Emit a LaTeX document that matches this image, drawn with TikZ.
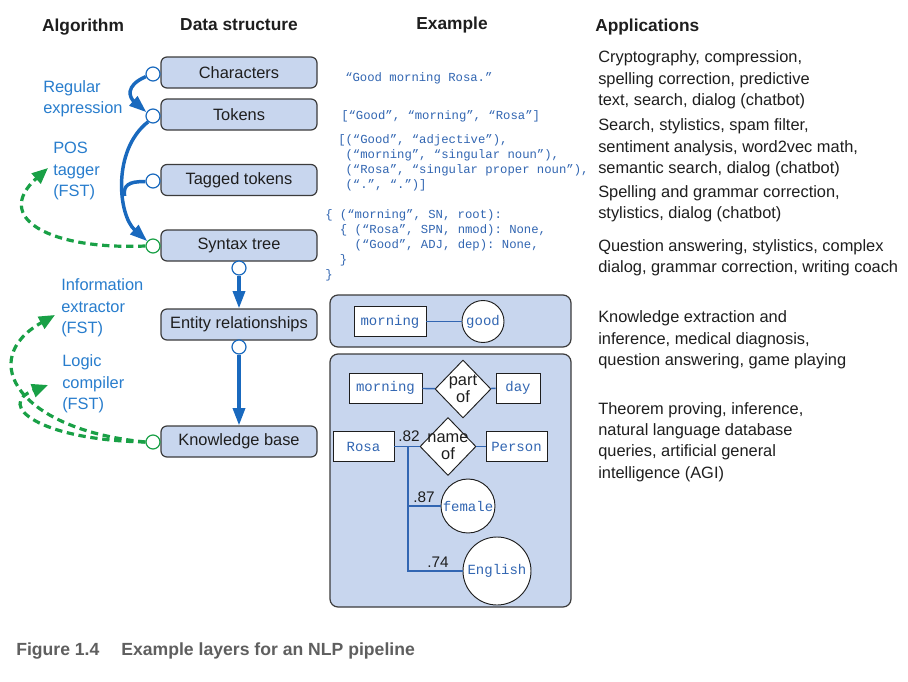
\documentclass[tikz,border=0pt]{standalone}
\usepackage{fontspec}
\setmainfont{Liberation Sans}
\setmonofont{Liberation Mono}
\usetikzlibrary{arrows.meta,shapes.geometric}
\definecolor{boxfill}{RGB}{200,214,238}
\definecolor{boxdraw}{RGB}{60,60,60}
\definecolor{arrowblue}{RGB}{25,105,190}
\definecolor{labelblue}{RGB}{40,125,205}
\definecolor{codeblue}{RGB}{50,102,178}
\definecolor{dashgreen}{RGB}{25,160,70}
\definecolor{capgray}{RGB}{95,95,95}
\definecolor{textblack}{RGB}{30,30,30}
\begin{document}
\begin{tikzpicture}[x=0.75pt,y=-0.75pt,
  every node/.style={font=\fontsize{12.3}{16.1}\selectfont, text=textblack},
  dsbox/.style={draw=boxdraw, fill=boxfill, rounded corners=4.5pt, line width=0.9pt, minimum width=117pt, minimum height=23.25pt, inner sep=0pt},
  port/.style={circle, draw=arrowblue, fill=white, line width=0.9pt, minimum size=10.5pt, inner sep=0pt},
  gport/.style={port, draw=dashgreen},
  flowline/.style={draw=arrowblue, line width=2.6pt},
  flow/.style={flowline, -{Triangle[length=13pt,width=9pt]}},
  gflow/.style={draw=dashgreen, line width=2.4pt, dash pattern=on 5.5pt off 3.5pt, -{Triangle[length=12pt,width=10pt]}},
  head/.style={font=\fontsize{13}{15}\selectfont\bfseries, inner sep=0pt},
  algo/.style={text=labelblue, align=left, anchor=west, inner sep=0pt},
  app/.style={align=left, anchor=west, inner sep=0pt},
  code/.style={font=\fontsize{9.2}{11.25}\selectfont\ttfamily, text=codeblue, align=left, anchor=west, inner sep=0pt},
  panel/.style={draw=boxdraw, fill=boxfill, rounded corners=6pt, line width=0.9pt},
  ebox/.style={draw=textblack, fill=white, line width=0.7pt, font=\fontsize{10.5}{12}\selectfont\ttfamily, text=codeblue, inner sep=0pt, minimum height=22.5pt},
  ecirc/.style={circle, draw=textblack, fill=white, line width=0.7pt, font=\fontsize{10.5}{12}\selectfont\ttfamily, text=codeblue, inner sep=0pt},
  rel/.style={diamond, aspect=1, draw=textblack, fill=white, line width=0.7pt, inner sep=0pt, minimum width=42pt, minimum height=43.5pt},
  rellabel/.style={align=center, inner sep=0pt, font=\fontsize{12.3}{13}\selectfont},
  link/.style={draw=codeblue, line width=1.1pt},
  wt/.style={inner sep=0pt, font=\fontsize{11.5}{13}\selectfont}
]
\fill[white] (0,0) rectangle (908,682);
\useasboundingbox (0,0) rectangle (908,682);

% headers
\node[head] (h1) at (83,27) {Algorithm};
\node[head] (h2) at (239,25) {Data structure};
\node[head] (h3) at (452,25) {Example};
\node[head, anchor=west] (h4) at (595,27) {Applications};

% data structure boxes
\node[dsbox] (chars) at (239,72.5) {Characters};
\node[dsbox] (tokens) at (239,114.5) {Tokens};
\node[dsbox] (tagged) at (239,180) {Tagged tokens};
\node[dsbox] (syntax) at (239,245.5) {Syntax tree};
\node[dsbox] (entity) at (239,324.5) {Entity relationships};
\node[dsbox] (kb) at (239,441.5) {Knowledge base};

% blue flows (drawn first so ports cover their ends)
\coordinate (merge) at (124.6,196);
\node[port] (c1) at (153,74) {};
\node[port] (c2) at (153,116) {};
\node[port] (c3) at (153,181) {};
\node[gport] (c4) at (153,246) {};
\node[gport] (c6) at (153,442) {};
\node[port] (d1) at (239,268) {};
\node[port] (d2) at (239,347) {};

\draw[flow] (c1.200) .. controls (124,86) and (130,98) .. (c2.150);
\draw[flow] (c2.230) .. controls (112,150) and (118,215) .. (c4.140);
\draw[flowline] (c3.185) .. controls (128,181) and (123,186) .. (merge);
\draw[flow] (d1) -- (entity);
\draw[flow] (d2) -- (kb);

% green dashed flows
\coordinate (posend) at (48,168);
\coordinate (ieend) at (55,315);
\coordinate (lcend) at (48,385);
\draw[gflow] (c4.180) .. controls (50,250) and (-8,218) .. (posend);
\draw[gflow] (c6.180) .. controls (20,430) and (-25,360) .. (ieend);
\draw[gflow] (c6.180) .. controls (40,440) and (-5,405) .. (lcend);

% algorithm labels
\node[algo] (l1) at (43,99) {Regular\\expression};
\node[algo] (l2) at (53,171) {POS\\tagger\\(FST)};
\node[algo] (l3) at (61,308) {Information\\extractor\\(FST)};
\node[algo] (l4) at (62,384) {Logic\\compiler\\(FST)};

% example code
\node[code] (ex1) at (345,78) {“Good morning Rosa.”};
\node[code] (ex2) at (341,116) {[“Good”, “morning”, “Rosa”]};
\node[code] (ex3) at (338,163) {[(“Good”, “adjective”),\\~(“morning”, “singular noun”),\\~(“Rosa”, “singular proper noun”),\\~(“.”, “.”)]};
\node[code] (ex4) at (325,245) {\{ (“morning”, SN, root):\\~~\{ (“Rosa”, SPN, nmod): None,\\~~~~(“Good”, ADJ, dep): None,\\~~\}\\\}};

% panel 1
\draw[panel] (330,295) rectangle (571,347);
\node[ebox, minimum width=54pt] (m1) at (390,321.5) {morning};
\node[ecirc, minimum size=31.5pt] (good) at (483,321.5) {good};
\draw[link] (m1) -- (good);

% panel 2
\draw[panel] (330,354) rectangle (571,607);
\node[ebox, minimum width=54.75pt] (m2) at (385.5,388) {morning};
\node[rel, label={[rellabel]center:part\\of}] (partof) at (463,389) {};
\node[ebox, minimum width=33pt] (day) at (518,388) {day};
\node[ebox, minimum width=45.75pt] (rosa) at (363.5,446.5) {Rosa};
\node[rel, label={[rellabel]center:name\\of}] (nameof) at (448,446.5) {};
\node[ebox, minimum width=45.75pt] (person) at (516.5,446.5) {Person};
\node[ecirc, minimum size=40.5pt] (fem) at (468,506) {female};
\node[ecirc, minimum size=51pt] (eng) at (497,571) {English};
\draw[link] (m2) -- (partof);
\draw[link] (partof) -- (day);
\draw[link] (rosa) -- (nameof);
\draw[link] (nameof) -- (person);
\coordinate (jn) at (408,446.5);
\draw[link] (jn) |- (eng);
\draw[link] (jn |- fem) -- (fem);
\node[wt] (w1) at (409,436) {.82};
\node[wt] (w2) at (424,497) {.87};
\node[wt] (w3) at (438,562) {.74};

% applications
\node[app] (a1) at (598,80) {Cryptography, compression,\\spelling correction, predictive\\text, search, dialog (chatbot)};
\node[app] (a2) at (598,148) {Search, stylistics, spam filter,\\sentiment analysis, word2vec math,\\semantic search, dialog (chatbot)};
\node[app] (a3) at (598,204) {Spelling and grammar correction,\\stylistics, dialog (chatbot)};
\node[app] (a4) at (598,258) {Question answering, stylistics, complex\\dialog, grammar correction, writing coach};
\node[app] (a5) at (598,340) {Knowledge extraction and\\inference, medical diagnosis,\\question answering, game playing};
\node[app] (a6) at (598,442) {Theorem proving, inference,\\natural language database\\queries, artificial general\\intelligence (AGI)};

% caption
\node[anchor=west, inner sep=0pt, text=capgray, font=\fontsize{13.2}{15}\selectfont\bfseries] (cap) at (16,651) {Figure 1.4\hspace*{16.5pt}Example layers for an NLP pipeline};
\end{tikzpicture}
\end{document}
